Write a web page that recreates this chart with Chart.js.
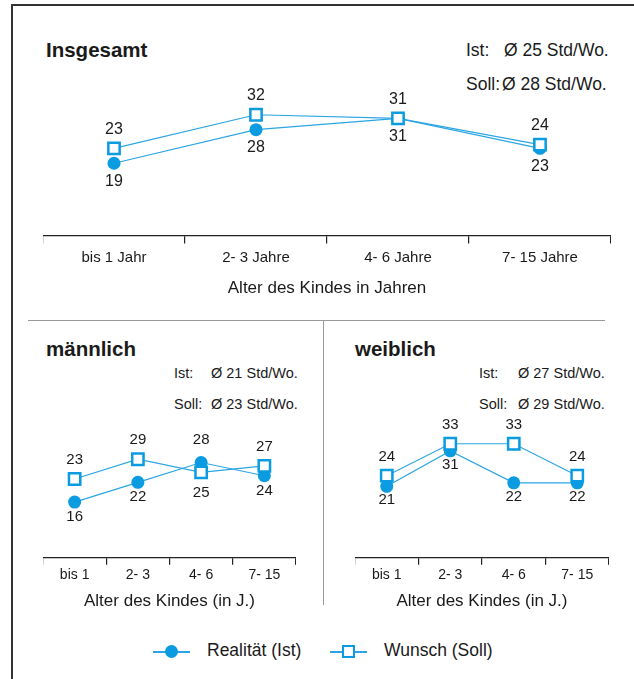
<!DOCTYPE html>
<html>
<head>
<meta charset="utf-8">
<script src="https://cdn.jsdelivr.net/npm/chart.js@4"></script>
<style>
body { margin: 0; background: #fff; }
#page { position: relative; width: 634px; height: 679px; overflow: hidden; font-family: "Liberation Sans", Arial, sans-serif; color: #1a1a1a; }
.abs { position: absolute; white-space: nowrap; }
.t { font-weight: bold; font-size: 20.5px; line-height: 22px; }
.info { font-size: 14.5px; line-height: 18px; }
.big { font-size: 17.5px; line-height: 20px; }
canvas { position: absolute; }
</style>
</head>
<body>
<div id="page">
  <div class="abs" style="left:11px;top:4px;width:623px;height:2px;background:#333"></div>
  <div class="abs" style="left:11px;top:4px;width:2px;height:675px;background:#333"></div>
  <div class="abs" style="left:28px;top:320px;width:577px;height:1px;background:#999"></div>
  <div class="abs" style="left:323px;top:320px;width:1px;height:285px;background:#999"></div>

  <div class="abs t" style="left:46px;top:39px">Insgesamt</div>
  <div class="abs info big" style="left:466px;top:40px">Ist:</div>
  <div class="abs info big" style="left:504px;top:40px" id="ist0"></div>
  <div class="abs info big" style="left:466px;top:74px">Soll:</div>
  <div class="abs info big" style="left:502px;top:74px" id="soll0"></div>

  <div class="abs t" style="left:46px;top:338px">männlich</div>
  <div class="abs info" style="left:174px;top:364px">Ist:</div>
  <div class="abs info" style="left:211px;top:364px" id="ist1"></div>
  <div class="abs info" style="left:174px;top:395px">Soll:</div>
  <div class="abs info" style="left:211px;top:395px" id="soll1"></div>

  <div class="abs t" style="left:355px;top:338px">weiblich</div>
  <div class="abs info" style="left:479px;top:364px">Ist:</div>
  <div class="abs info" style="left:518px;top:364px" id="ist2"></div>
  <div class="abs info" style="left:479px;top:395px">Soll:</div>
  <div class="abs info" style="left:518px;top:395px" id="soll2"></div>

  <canvas id="c0" style="left:43px;top:56px;width:568px;height:243px" width="568" height="243"></canvas>
  <canvas id="c1" style="left:43px;top:396px;width:253px;height:216px" width="253" height="216"></canvas>
  <canvas id="c2" style="left:355px;top:396px;width:254px;height:216px" width="254" height="216"></canvas>

  <div class="abs" style="left:153px;top:651px;width:37px;height:1.5px;background:#2ba5e3"></div>
  <div class="abs" style="left:165px;top:645px;width:13px;height:13px;border-radius:50%;background:#0a9be0"></div>
  <div class="abs" style="left:207px;top:640px;font-size:17.5px;line-height:20px">Realität (Ist)</div>
  <div class="abs" style="left:330px;top:651px;width:37px;height:1.5px;background:#2ba5e3"></div>
  <div class="abs" style="left:342px;top:645px;width:9px;height:9px;border:2.5px solid #0a9be0;background:#fff"></div>
  <div class="abs" style="left:384px;top:640px;font-size:17.5px;line-height:20px">Wunsch (Soll)</div>
</div>
<script>
// Kategorien
const labelsLong = ["bis 1 Jahr", "2- 3 Jahre", "4- 6 Jahre", "7- 15 Jahre"];
const labelsShort = ["bis 1", "2- 3", "4- 6", "7- 15"];

// Insgesamt
const istTotal = [19, 28, 31, 23];
const sollTotal = [23, 32, 31, 24];
// männlich
const istMale = [16, 22, 28, 24];
const sollMale = [23, 29, 25, 27];
// weiblich
const istFemale = [21, 31, 22, 22];
const sollFemale = [24, 33, 33, 24];

// Durchschnitt Std/Wo.
const avgIst = [25, 21, 27];
const avgSoll = [28, 23, 29];

for (let i = 0; i < 3; i++) {
  document.getElementById("ist" + i).textContent = "Ø " + avgIst[i] + " Std/Wo.";
  document.getElementById("soll" + i).textContent = "Ø " + avgSoll[i] + " Std/Wo.";
}

const blue = "#0a9be0";
const lineBlue = "#2ba5e3";
const font = "'Liberation Sans', Arial, sans-serif";

// Werte über dem oberen, unter dem unteren Punkt
const valueLabels = {
  id: "valueLabels",
  afterDatasetsDraw(chart, args, opts) {
    const ctx = chart.ctx;
    const soll = chart.getDatasetMeta(0);
    const ist = chart.getDatasetMeta(1);
    const ds = chart.data.datasets[0].data;
    const di = chart.data.datasets[1].data;
    ctx.save();
    ctx.font = opts.size + "px " + font;
    ctx.fillStyle = "#1a1a1a";
    ctx.textAlign = "center";
    ctx.textBaseline = "middle";
    for (let i = 0; i < di.length; i++) {
      if (ds[i] >= di[i]) {
        ctx.fillText(ds[i], soll.data[i].x, soll.data[i].y - opts.above);
        ctx.fillText(di[i], ist.data[i].x, ist.data[i].y + opts.below);
      } else {
        ctx.fillText(di[i], ist.data[i].x, ist.data[i].y - opts.above - 4);
        ctx.fillText(ds[i], soll.data[i].x, soll.data[i].y + opts.below + 5);
      }
    }
    ctx.restore();
  }
};

function makeChart(id, labels, ist, soll, yMin, yMax, tickSize, titleText, titleSize, tickLen, tickPad, titlePad, lblSize, below) {
  return new Chart(document.getElementById(id), {
    type: "line",
    data: {
      labels: labels,
      datasets: [{
        label: "Wunsch (Soll)",
        data: soll,
        order: 0,
        borderColor: lineBlue,
        borderWidth: 1.2,
        pointStyle: "rect",
        pointRadius: 8,
        pointBorderWidth: 2.5,
        pointBorderColor: blue,
        pointBackgroundColor: "#fff",
        clip: false
      }, {
        label: "Realität (Ist)",
        data: ist,
        order: 1,
        borderColor: lineBlue,
        borderWidth: 1.2,
        pointStyle: "circle",
        pointRadius: 6.5,
        pointBorderWidth: 0,
        pointBackgroundColor: blue,
        clip: false
      }]
    },
    options: {
      responsive: false,
      animation: false,
      layout: { autoPadding: false, padding: { top: 24, left: 0, right: 0, bottom: 0 } },
      plugins: {
        legend: { display: false },
        tooltip: { enabled: false },
        valueLabels: { size: lblSize, above: 19, below: below }
      },
      scales: {
        y: { display: false, min: yMin, max: yMax },
        x: {
          offset: true,
          grid: { display: true, offset: true, drawOnChartArea: false, drawTicks: true, tickLength: tickLen, color: "#222", lineWidth: 1.2 },
          border: { display: true, color: "#222", width: 1.2 },
          ticks: { color: "#1a1a1a", font: { family: font, size: tickSize }, padding: tickPad, maxRotation: 0 },
          title: { display: true, text: titleText, color: "#1a1a1a", font: { family: font, size: titleSize }, padding: { top: titlePad, bottom: 0 } }
        }
      }
    },
    plugins: [valueLabels]
  });
}

makeChart("c0", labelsLong, istTotal, sollTotal, -0.37, 41.3, 15, "Alter des Kindes in Jahren", 17, 8, 5, 7, 16, 18);
makeChart("c1", labelsShort, istMale, sollMale, -0.9, 40.9, 14, "Alter des Kindes (in J.)", 17, 7, 2, 6, 15, 15);
makeChart("c2", labelsShort, istFemale, sollFemale, 0.85, 39.7, 14, "Alter des Kindes (in J.)", 17, 7, 2, 6, 15, 14);
</script>
</body>
</html>
